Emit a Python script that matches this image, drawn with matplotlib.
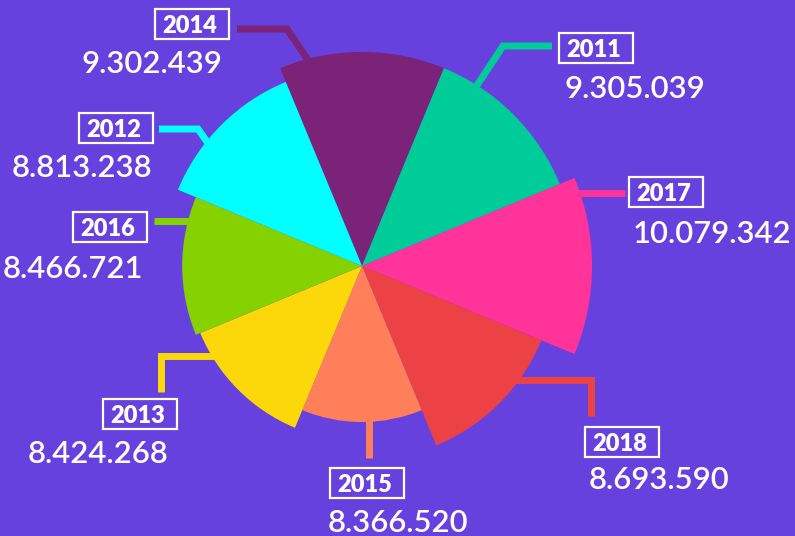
import matplotlib
matplotlib.use("Agg")
import matplotlib.pyplot as plt
from matplotlib.patches import Wedge, Rectangle
import numpy as np

# ---- data (clockwise from top) ----
categories = ['2014', '2011', '2017', '2018', '2015', '2013', '2016', '2012']
values = [9302439, 9305039, 10079342, 8693590, 8366520, 8424268, 8466721, 8813238]
colors = ['#7a2379', '#00cc99', '#ff3399', '#ec4246', '#ff7f5a', '#fcd70a', '#86d100', '#00ffff']

# ---- layout ----
W, H = 795, 536
BG = '#6741de'
CX, CY = 362, 266
R_MIN, R_MAX = 156, 230

def fmt(v):
    return f"{v:,}".replace(",", ".")

def radius(v):
    vmin, vmax = min(values), max(values)
    return R_MIN + (R_MAX - R_MIN) * ((v - vmin) / (vmax - vmin)) ** 0.4

# label layout: box top-left, value anchor (x, baseline, ha), leader path
layout = {
    '2014': dict(box=(155, 9), val=(222, 73, 'right'), lead=[(237, 29), (287, 29), (318, 75)]),
    '2011': dict(box=(559, 33), val=(565, 98, 'left'), lead=[(552, 46), (503, 46), (470, 96)]),
    '2017': dict(box=(629, 177), val=(633, 243, 'left'), lead=[(625, 193), (555, 193)]),
    '2018': dict(box=(585, 427), val=(589, 489, 'left'), lead=[(591, 416), (591, 380), (500, 380)]),
    '2015': dict(box=(330, 468), val=(328, 532, 'left'), lead=[(369, 458), (369, 400)]),
    '2013': dict(box=(103, 399), val=(168, 463, 'right'), lead=[(161, 392), (161, 356), (240, 356)]),
    '2016': dict(box=(73, 212), val=(143, 278, 'right'), lead=[(154, 221), (205, 221)]),
    '2012': dict(box=(79, 113), val=(152, 177, 'right'), lead=[(159, 129), (198, 129), (222, 163)]),
}
BOX_W, BOX_H = 74, 30

fig = plt.figure(figsize=(W / 100, H / 100), dpi=100, facecolor=BG)
ax = fig.add_axes([0, 0, 1, 1])
ax.set_xlim(0, W)
ax.set_ylim(H, 0)
ax.set_aspect('equal')
ax.axis('off')
ax.set_facecolor(BG)

n = len(categories)
step = 360 / n
for i, (cat, v, c) in enumerate(zip(categories, values, colors)):
    mid = 90 - step * i
    a1, a2 = mid - step / 2, mid + step / 2
    # inverted y axis: visual angle a -> data angle -a
    w = Wedge((CX, CY), radius(v), -a2, -a1, facecolor=c, edgecolor='none', zorder=3)
    ax.add_patch(w)

    lay = layout[cat]
    xs, ys = zip(*lay['lead'])
    ax.plot(xs, ys, color=c, lw=5, solid_capstyle='butt', solid_joinstyle='miter', zorder=2)

    bx, by = lay['box']
    ax.add_patch(Rectangle((bx, by), BOX_W, BOX_H, facecolor='none', edgecolor='white', lw=1.6, zorder=4))
    ax.text(bx + BOX_W / 2 - 2, by + 24, cat, color='white', fontsize=17, fontweight='heavy',
            family='Lato', ha='center', va='baseline', zorder=5)

    vx, vy, ha = lay['val']
    ax.text(vx, vy, fmt(v), color='white', fontsize=22.3, family='Lato', fontweight='semibold',
            ha=ha, va='baseline', zorder=5)

fig.savefig('out.png', dpi=100, facecolor=BG)
